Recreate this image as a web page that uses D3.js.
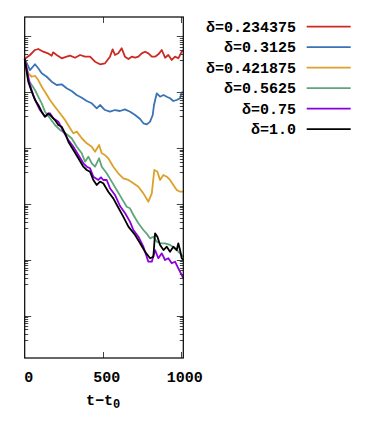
<!DOCTYPE html>
<html><head><meta charset="utf-8">
<script src="https://cdn.jsdelivr.net/npm/d3@7"></script>
<style>html,body{margin:0;padding:0;background:#fff}svg{display:block}</style>
</head><body><svg id="c" width="370" height="426"></svg>
<script>
const seriesNames = ["δ=0.234375","δ=0.3125","δ=0.421875","δ=0.5625","δ=0.75","δ=1.0"];
const seriesColors = ["#cc2a22","#3a72b6","#dca12a","#5fa57a","#8a00dc","#000000"];
const xTicks = [0,500,1000];
const yMajorTicks = [1,1e-1,1e-2,1e-3,1e-4,1e-5];
const yMinorFactors = [0.37,0.48,0.57,0.65,0.73,0.80,0.87,0.94];

const red = [[0,0.393],[34,0.463],[66,0.569],[87,0.593],[119,0.530],[149,0.496],[173,0.450],[182,0.517],[205,0.463],[237,0.404],[269,0.432],[291,0.450],[323,0.414],[355,0.463],[387,0.432],[419,0.432],[451,0.351],[483,0.316],[515,0.329],[547,0.432],[564,0.585],[579,0.463],[600,0.496],[622,0.610],[643,0.432],[665,0.393],[686,0.432],[708,0.414],[729,0.432],[750,0.496],[772,0.530],[793,0.496],[815,0.432],[836,0.432],[857,0.476],[879,0.569],[900,0.414],[921,0.463],[943,0.377],[964,0.432],[985,0.404],[1007,0.530],[1017,0.569]];
const blue = [[0,0.393],[34,0.249],[66,0.316],[87,0.268],[109,0.218],[141,0.189],[173,0.154],[205,0.1345],[237,0.1385],[269,0.1174],[301,0.1051],[333,0.0891],[366,0.0797],[398,0.0696],[430,0.0633],[462,0.0515],[483,0.0590],[515,0.0480],[547,0.0448],[579,0.0480],[611,0.0461],[643,0.0494],[676,0.0448],[708,0.0391],[740,0.0332],[761,0.0278],[783,0.0266],[804,0.0297],[821,0.0391],[829,0.0590],[847,0.0956],[868,0.0831],[890,0.0891],[911,0.0831],[932,0.0778],[953,0.0696],[975,0.0725],[996,0.0778],[1007,0.0996],[1017,0.0996]];
const orange = [[0,0.393],[23,0.218],[45,0.189],[66,0.197],[87,0.165],[109,0.1254],[130,0.1021],[162,0.0725],[194,0.0550],[226,0.0419],[259,0.0318],[291,0.0226],[312,0.0184],[334,0.0197],[366,0.0150],[398,0.0122],[430,0.0106],[451,0.00862],[477,0.01136],[494,0.00807],[515,0.00752],[536,0.00657],[568,0.00465],[600,0.00354],[632,0.00288],[665,0.00269],[697,0.00235],[729,0.00204],[761,0.00155],[793,0.00110],[815,0.00155],[831,0.00406],[851,0.00378],[868,0.00269],[889,0.00330],[911,0.00308],[932,0.00269],[953,0.00219],[975,0.00178],[996,0.00166],[1017,0.00166]];
const green = [[0,0.393],[23,0.165],[45,0.1345],[66,0.1095],[87,0.0831],[109,0.0633],[130,0.0448],[162,0.0341],[194,0.0259],[226,0.0211],[259,0.0186],[301,0.0150],[334,0.0106],[366,0.00807],[387,0.00571],[408,0.00702],[430,0.00535],[451,0.00465],[477,0.00657],[494,0.00465],[526,0.00354],[558,0.00251],[590,0.00178],[622,0.00126],[654,0.000895],[675,0.000838],[697,0.000635],[729,0.000452],[761,0.000343],[784,0.000291],[804,0.000243],[825,0.000260],[847,0.000212],[868,0.000198],[900,0.000198],[932,0.000185],[964,0.000161],[996,0.000131],[1017,0.000114]];
const purple = [[0,0.393],[34,0.1345],[55,0.0891],[77,0.0633],[98,0.0480],[130,0.0365],[162,0.0419],[183,0.0341],[216,0.0297],[248,0.0197],[280,0.01396],[312,0.0106],[344,0.00752],[376,0.00535],[398,0.00465],[419,0.00435],[440,0.00308],[472,0.00269],[489,0.00300],[504,0.00269],[526,0.00269],[547,0.00191],[579,0.00145],[611,0.000921],[643,0.00069],[675,0.000483],[697,0.000343],[729,0.00026],[761,0.000172],[793,0.0000929],[815,0.0000929],[836,0.000150],[857,0.000107],[879,0.000131],[900,0.0000996],[921,0.000107],[943,0.0000869],[964,0.0000929],[985,0.0000708],[1007,0.0000537],[1017,0.0000469]];
const black = [[0,0.393],[23,0.154],[45,0.1021],[66,0.0725],[87,0.0590],[109,0.0448],[130,0.0365],[151,0.0419],[173,0.0365],[194,0.0318],[216,0.0259],[237,0.0241],[259,0.0184],[280,0.0130],[312,0.00925],[344,0.00657],[376,0.00465],[398,0.00406],[419,0.00378],[440,0.00269],[462,0.00219],[483,0.00251],[504,0.00235],[536,0.00166],[568,0.00126],[600,0.000866],[632,0.000593],[665,0.000393],[708,0.000279],[740,0.000198],[772,0.000140],[804,0.000107],[825,0.000114],[836,0.000298],[851,0.00026],[868,0.000185],[890,0.00015],[911,0.000172],[932,0.00014],[953,0.000172],[975,0.00015],[985,0.000198],[996,0.00015],[1007,0.000107],[1017,0.0000996]];
const seriesData = [red, blue, orange, green, purple, black];

const svg = d3.select("#c");
const L = 24.7, R = 183.3, T = 17, B = 358;
const x = d3.scaleLinear().domain([0, 1017]).range([L, R]);
const y = d3.scaleLog().domain([Math.pow(10, (36.3 - T) / 55.9), Math.pow(10, -(B - 36.3) / 55.9)]).range([T, B]);
const font = "'Liberation Mono', 'DejaVu Sans Mono', monospace";

// curves
const line = d3.line().x(d => x(d[0])).y(d => y(d[1]));
const g = svg.append("g");
seriesData.forEach((s, i) => {
  g.append("path").datum(s).attr("d", line).attr("fill", "none")
   .attr("stroke", seriesColors[i]).attr("stroke-width", 1.8).attr("stroke-linejoin", "round");
});

// y ticks (left and right, inward)
const minorVals = [];
yMajorTicks.forEach(m => yMinorFactors.forEach(f => minorVals.push(m * f)));
const tickG = svg.append("g").attr("stroke", "#444").attr("stroke-width", 1);
yMajorTicks.forEach(v => {
  const yy = Math.round(y(v)) + 0.5;
  tickG.append("line").attr("x1", L).attr("x2", L + 6.5).attr("y1", yy).attr("y2", yy);
  tickG.append("line").attr("x1", R).attr("x2", R - 6.5).attr("y1", yy).attr("y2", yy);
});
minorVals.filter(v => y(v) > T && y(v) < B).forEach(v => {
  const yy = Math.round(y(v)) + 0.5;
  tickG.append("line").attr("x1", L).attr("x2", L + 3.5).attr("y1", yy).attr("y2", yy);
  tickG.append("line").attr("x1", R).attr("x2", R - 3.5).attr("y1", yy).attr("y2", yy);
});
// x ticks
xTicks.filter(v => v > 0).forEach(v => {
  const xx = Math.round(x(v)) + 0.5;
  tickG.append("line").attr("x1", xx).attr("x2", xx).attr("y1", B).attr("y2", B - 6);
  tickG.append("line").attr("x1", xx).attr("x2", xx).attr("y1", T).attr("y2", T + 6);
});

// frame
svg.append("rect").attr("x", L).attr("y", T).attr("width", R - L).attr("height", B - T)
  .attr("fill", "none").attr("stroke", "#000").attr("stroke-width", 1.2);

// x tick labels
svg.append("g").selectAll("text").data(xTicks).join("text")
  .attr("x", d => x(d) + 4).attr("y", 382).attr("text-anchor", "middle")
  .attr("font-family", font).attr("font-weight", "bold").attr("font-size", 15)
  .text(d => d);

// x axis title
const xt = svg.append("text").attr("x", 103).attr("y", 405).attr("text-anchor", "middle")
  .attr("font-family", font).attr("font-weight", "bold").attr("font-size", 15);
xt.append("tspan").text("t−t");
xt.append("tspan").attr("font-size", 12).attr("dy", 3).text("0");

// legend
const leg = svg.append("g");
seriesNames.forEach((n, i) => {
  const yy = 26.7 + i * 20.5;
  leg.append("text").attr("x", 296).attr("y", yy + 5).attr("text-anchor", "end")
    .attr("font-family", font).attr("font-weight", "bold").attr("font-size", 15).text(n);
  leg.append("line").attr("x1", 306.7).attr("x2", 350.7).attr("y1", yy).attr("y2", yy)
    .attr("stroke", seriesColors[i]).attr("stroke-width", 1.8);
});
</script></body></html>
